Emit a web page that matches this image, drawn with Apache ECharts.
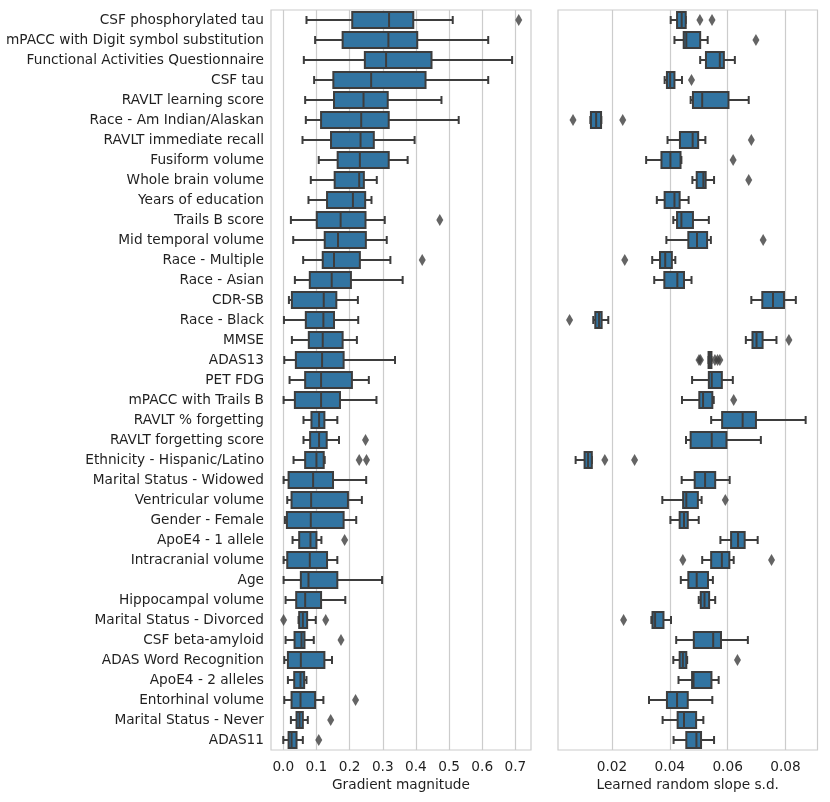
<!DOCTYPE html>
<html>
<head>
<meta charset="utf-8">
<title>Feature importance</title>
<script src="https://cdn.jsdelivr.net/npm/echarts@6/dist/echarts.min.js"></script>
<style>
  html, body { margin: 0; padding: 0; background: #fff; }
  #main { width: 830px; height: 802px; }
</style>
</head>
<body>
<div id="main"></div>
<script>
// features, top to bottom
var features = [
  'CSF phosphorylated tau', 'mPACC with Digit symbol substitution', 'Functional Activities Questionnaire',
  'CSF tau', 'RAVLT learning score', 'Race - Am Indian/Alaskan', 'RAVLT immediate recall',
  'Fusiform volume', 'Whole brain volume', 'Years of education', 'Trails B score',
  'Mid temporal volume', 'Race - Multiple', 'Race - Asian', 'CDR-SB', 'Race - Black', 'MMSE',
  'ADAS13', 'PET FDG', 'mPACC with Trails B', 'RAVLT % forgetting', 'RAVLT forgetting score',
  'Ethnicity - Hispanic/Latino', 'Marital Status - Widowed', 'Ventricular volume',
  'Gender - Female', 'ApoE4 - 1 allele', 'Intracranial volume', 'Age', 'Hippocampal volume',
  'Marital Status - Divorced', 'CSF beta-amyloid', 'ADAS Word Recognition', 'ApoE4 - 2 alleles',
  'Entorhinal volume', 'Marital Status - Never', 'ADAS11'
];

// gradient magnitude: [whisker low, q1, median, q3, whisker high]
var gradStats = [
  [0.070, 0.208, 0.319, 0.392, 0.511], [0.096, 0.179, 0.317, 0.404, 0.618],
  [0.062, 0.246, 0.310, 0.447, 0.690], [0.093, 0.151, 0.265, 0.429, 0.618],
  [0.066, 0.153, 0.242, 0.315, 0.477], [0.068, 0.114, 0.235, 0.318, 0.529],
  [0.058, 0.144, 0.233, 0.273, 0.396], [0.107, 0.164, 0.231, 0.318, 0.375],
  [0.083, 0.155, 0.229, 0.243, 0.282], [0.076, 0.132, 0.210, 0.247, 0.266],
  [0.023, 0.101, 0.173, 0.248, 0.306], [0.030, 0.125, 0.165, 0.249, 0.312],
  [0.060, 0.119, 0.153, 0.231, 0.323], [0.035, 0.080, 0.146, 0.204, 0.360],
  [0.017, 0.026, 0.122, 0.160, 0.225], [0.002, 0.068, 0.121, 0.153, 0.226],
  [0.026, 0.077, 0.119, 0.179, 0.222], [0.003, 0.038, 0.117, 0.182, 0.337],
  [0.019, 0.066, 0.114, 0.207, 0.258], [0.001, 0.035, 0.114, 0.171, 0.281],
  [0.061, 0.085, 0.108, 0.124, 0.163], [0.061, 0.081, 0.108, 0.131, 0.168],
  [0.031, 0.066, 0.100, 0.122, 0.125], [0.001, 0.016, 0.090, 0.150, 0.250],
  [0.012, 0.025, 0.084, 0.195, 0.237], [0.005, 0.011, 0.083, 0.182, 0.220],
  [0.028, 0.048, 0.082, 0.100, 0.115], [0.001, 0.012, 0.080, 0.132, 0.163],
  [0.001, 0.053, 0.076, 0.163, 0.298], [0.007, 0.039, 0.066, 0.114, 0.187],
  [0.046, 0.048, 0.059, 0.072, 0.098], [0.007, 0.034, 0.055, 0.064, 0.092],
  [0.003, 0.014, 0.053, 0.124, 0.147], [0.014, 0.033, 0.052, 0.063, 0.070],
  [0.003, 0.025, 0.052, 0.096, 0.121], [0.023, 0.040, 0.049, 0.059, 0.074],
  [0.000, 0.016, 0.025, 0.040, 0.059]
];
// [value, feature index]
var gradOutliers = [
  [0.710, 0], [0.472, 10], [0.419, 12], [0.248, 21], [0.229, 22], [0.251, 22],
  [0.185, 26], [0.001, 30], [0.128, 30], [0.174, 31], [0.218, 34], [0.143, 35], [0.107, 36]
];

// learned random slope s.d.
var slopeStats = [
  [0.0403, 0.0425, 0.0441, 0.0455, 0.0455], [0.0416, 0.0448, 0.0457, 0.0505, 0.0531],
  [0.0505, 0.0525, 0.0573, 0.0587, 0.0625], [0.0382, 0.0390, 0.0401, 0.0416, 0.0442],
  [0.0472, 0.0480, 0.0512, 0.0603, 0.0673], [0.0125, 0.0127, 0.0145, 0.0162, 0.0163],
  [0.0392, 0.0435, 0.0479, 0.0498, 0.0523], [0.0318, 0.0371, 0.0402, 0.0437, 0.0440],
  [0.0478, 0.0493, 0.0516, 0.0524, 0.0553], [0.0355, 0.0382, 0.0416, 0.0434, 0.0465],
  [0.0412, 0.0425, 0.0440, 0.0480, 0.0535], [0.0388, 0.0464, 0.0494, 0.0529, 0.0542],
  [0.0339, 0.0366, 0.0384, 0.0407, 0.0419], [0.0346, 0.0381, 0.0426, 0.0449, 0.0475],
  [0.0682, 0.0720, 0.0757, 0.0795, 0.0836], [0.0135, 0.0142, 0.0155, 0.0164, 0.0187],
  [0.0663, 0.0686, 0.0700, 0.0721, 0.0769], [0.0534, 0.0534, 0.0538, 0.0544, 0.0544],
  [0.0477, 0.0535, 0.0545, 0.0580, 0.0618], [0.0442, 0.0502, 0.0515, 0.0547, 0.0552],
  [0.0543, 0.0581, 0.0652, 0.0698, 0.0870], [0.0456, 0.0472, 0.0545, 0.0596, 0.0715],
  [0.0074, 0.0105, 0.0117, 0.0130, 0.0130], [0.0441, 0.0486, 0.0522, 0.0557, 0.0607],
  [0.0374, 0.0446, 0.0457, 0.0497, 0.0510], [0.0402, 0.0434, 0.0449, 0.0462, 0.0500],
  [0.0575, 0.0612, 0.0636, 0.0659, 0.0704], [0.0512, 0.0543, 0.0580, 0.0606, 0.0621],
  [0.0438, 0.0464, 0.0493, 0.0532, 0.0549], [0.0500, 0.0507, 0.0520, 0.0536, 0.0557],
  [0.0336, 0.0340, 0.0349, 0.0378, 0.0404], [0.0422, 0.0483, 0.0550, 0.0577, 0.0670],
  [0.0412, 0.0434, 0.0445, 0.0457, 0.0460], [0.0430, 0.0477, 0.0482, 0.0544, 0.0569],
  [0.0328, 0.0390, 0.0425, 0.0462, 0.0547], [0.0375, 0.0427, 0.0449, 0.0491, 0.0516],
  [0.0413, 0.0457, 0.0492, 0.0508, 0.0553]
];
var slopeOutliers = [
  [0.0504, 0], [0.0546, 0], [0.0698, 1], [0.0475, 3], [0.0065, 5], [0.0237, 5],
  [0.0682, 6], [0.0619, 7], [0.0673, 8], [0.0723, 11], [0.0244, 12], [0.0053, 15],
  [0.0812, 16], [0.0501, 17], [0.0506, 17], [0.0556, 17], [0.0565, 17], [0.0573, 17],
  [0.0621, 19], [0.0175, 22], [0.0278, 22], [0.0592, 24], [0.0445, 27], [0.0752, 27],
  [0.0240, 30], [0.0634, 32]
];

var gradTicks = [0, 0.1, 0.2, 0.3, 0.4, 0.5, 0.6, 0.7];
var slopeTicks = [0.02, 0.04, 0.06, 0.08];

var boxColor = '#3274a1';
var lineColor = '#3d3d3d';
var textColor = '#1f1f1f';
var fontSize = 13.7;

// seaborn-like horizontal box: caps half the box height
function renderBox(params, api) {
  var idx = api.value(0);
  var band = api.size([0, 1])[1];
  var half = band * 0.4;
  var cap = band * 0.2;
  var p = [1, 2, 3, 4, 5].map(function (d) { return api.coord([api.value(d), idx]); });
  var y = p[0][1];
  var ls = { stroke: lineColor, lineWidth: 2 };
  return {
    type: 'group',
    children: [
      { type: 'line', shape: { x1: p[0][0], y1: y, x2: p[1][0], y2: y }, style: ls },
      { type: 'line', shape: { x1: p[3][0], y1: y, x2: p[4][0], y2: y }, style: ls },
      { type: 'line', shape: { x1: p[0][0], y1: y - cap, x2: p[0][0], y2: y + cap }, style: ls },
      { type: 'line', shape: { x1: p[4][0], y1: y - cap, x2: p[4][0], y2: y + cap }, style: ls },
      { type: 'rect', shape: { x: p[1][0], y: y - half, width: p[3][0] - p[1][0], height: half * 2 },
        style: { fill: boxColor, stroke: lineColor, lineWidth: 2 } },
      { type: 'line', shape: { x1: p[2][0], y1: y - half, x2: p[2][0], y2: y + half }, style: ls }
    ]
  };
}

function boxData(stats) {
  return stats.map(function (s, i) { return [i].concat(s); });
}

function valueAxis(gridIndex, min, max, ticks, digits, name) {
  return {
    type: 'value', gridIndex: gridIndex, min: min, max: max,
    name: name, nameLocation: 'middle', nameGap: 27,
    nameTextStyle: { fontSize: fontSize, color: textColor, fontFamily: 'DejaVu Sans' },
    axisLine: { show: false }, axisTick: { show: false, customValues: ticks },
    axisLabel: { customValues: ticks, fontSize: fontSize, color: textColor, fontFamily: 'DejaVu Sans', margin: 10,
      formatter: function (v) { return v.toFixed(digits); } },
    splitLine: { show: true, lineStyle: { color: '#cccccc', width: 1.2 } }
  };
}

function catAxis(gridIndex, showLabels) {
  return {
    type: 'category', gridIndex: gridIndex, data: features, inverse: true,
    name: showLabels ? 'Feature' : '', nameLocation: 'middle', nameGap: 248, nameRotate: 90,
    nameTextStyle: { fontSize: fontSize, color: textColor, fontFamily: 'DejaVu Sans' },
    axisLine: { show: false }, axisTick: { show: false }, splitLine: { show: false },
    axisLabel: { show: showLabels, fontSize: fontSize, color: textColor, fontFamily: 'DejaVu Sans', margin: 7 }
  };
}

var chart = echarts.init(document.getElementById('main'));
chart.setOption({
  backgroundColor: '#ffffff',
  animation: false,
  grid: [
    { left: 271, top: 10, width: 260, height: 740, show: true, borderColor: '#cccccc', borderWidth: 1.2,
      containLabel: false, outerBoundsMode: 'none' },
    { left: 558, top: 10, width: 259.5, height: 740, show: true, borderColor: '#cccccc', borderWidth: 1.2,
      containLabel: false, outerBoundsMode: 'none' }
  ],
  xAxis: [
    valueAxis(0, -0.037, 0.747, gradTicks, 1, 'Gradient magnitude'),
    valueAxis(1, 0.0013, 0.0911, slopeTicks, 2, 'Learned random slope s.d.')
  ],
  yAxis: [catAxis(0, true), catAxis(1, false)],
  series: [
    { type: 'custom', xAxisIndex: 0, yAxisIndex: 0, renderItem: renderBox,
      encode: { x: [1, 2, 3, 4, 5], y: 0 }, data: boxData(gradStats) },
    { type: 'scatter', xAxisIndex: 0, yAxisIndex: 0, symbol: 'diamond', symbolSize: [7, 12],
      itemStyle: { color: lineColor }, data: gradOutliers },
    { type: 'custom', xAxisIndex: 1, yAxisIndex: 1, renderItem: renderBox,
      encode: { x: [1, 2, 3, 4, 5], y: 0 }, data: boxData(slopeStats) },
    { type: 'scatter', xAxisIndex: 1, yAxisIndex: 1, symbol: 'diamond', symbolSize: [7, 12],
      itemStyle: { color: lineColor }, data: slopeOutliers }
  ]
});
</script>
</body>
</html>
